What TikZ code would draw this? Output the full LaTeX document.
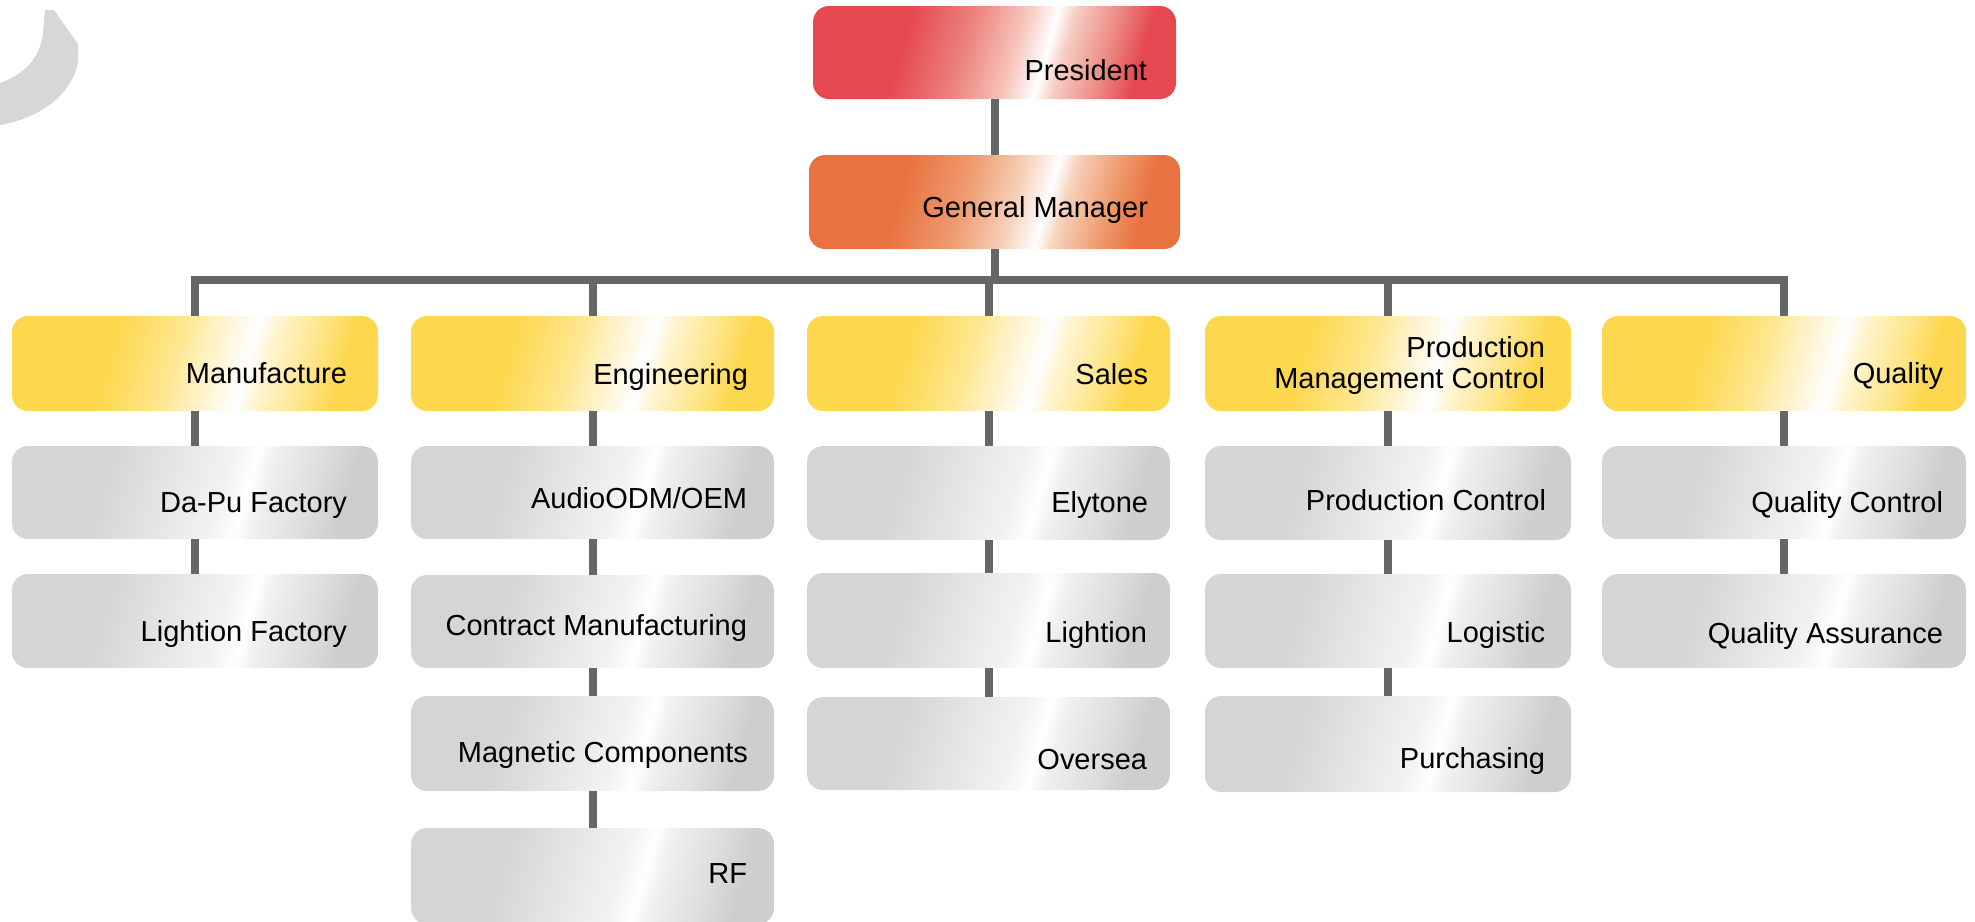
\documentclass[tikz,border=0pt]{standalone}
\usepackage{fontspec}
\setmainfont{Liberation Sans}
\usetikzlibrary{fit}
\definecolor{redA}{RGB}{229,73,79}
\definecolor{redB}{RGB}{236,130,125}
\definecolor{redC}{RGB}{246,195,185}
\definecolor{redD}{RGB}{246,205,195}
\definecolor{redE}{RGB}{236,138,132}
\definecolor{orA}{RGB}{233,115,64}
\definecolor{orB}{RGB}{239,155,112}
\definecolor{orC}{RGB}{247,208,185}
\definecolor{orD}{RGB}{247,210,188}
\definecolor{orE}{RGB}{238,155,110}
\definecolor{yeA}{RGB}{253,215,77}
\definecolor{yeB}{RGB}{254,230,140}
\definecolor{yeC}{RGB}{255,244,210}
\definecolor{yeD}{RGB}{255,245,210}
\definecolor{yeE}{RGB}{254,230,140}
\definecolor{grA}{RGB}{212,213,215}
\definecolor{grB}{RGB}{229,230,231}
\definecolor{grC}{RGB}{242,242,243}
\definecolor{grD}{RGB}{239,239,240}
\definecolor{grE}{RGB}{223,223,224}
\definecolor{grF}{RGB}{205,206,208}
\definecolor{wht}{RGB}{254,254,254}
\definecolor{linegray}{RGB}{102,102,102}
\definecolor{arcgray}{RGB}{215,215,215}
\pgfdeclarehorizontalshading{redshade}{100bp}{color(0bp)=(redA); color(35bp)=(redA); color(45bp)=(redB); color(53bp)=(redC); color(58.25bp)=(wht); color(61bp)=(redD); color(68bp)=(redE); color(73.5bp)=(redA); color(100bp)=(redA)}
\pgfdeclarehorizontalshading{orshade}{100bp}{color(0bp)=(orA); color(35bp)=(orA); color(45bp)=(orB); color(53bp)=(orC); color(58.25bp)=(wht); color(61bp)=(orD); color(68bp)=(orE); color(73.5bp)=(orA); color(100bp)=(orA)}
\pgfdeclarehorizontalshading{yeshade}{100bp}{color(0bp)=(yeA); color(36bp)=(yeA); color(46bp)=(yeB); color(53bp)=(yeC); color(58.25bp)=(wht); color(61bp)=(yeD); color(68bp)=(yeE); color(73.5bp)=(yeA); color(100bp)=(yeA)}
\pgfdeclarehorizontalshading{grshade}{100bp}{color(0bp)=(grA); color(35bp)=(grA); color(46bp)=(grB); color(54bp)=(grC); color(58.25bp)=(wht); color(61bp)=(grD); color(68bp)=(grE); color(74bp)=(grF); color(100bp)=(grF)}
\tikzset{
  box/.style={inner sep=0pt, outer sep=0pt, rounded corners=0.32cm, draw=none, shape=rectangle, shading angle=-16},
  redbox/.style={box, shading=redshade},
  orbox/.style={box, shading=orshade},
  yebox/.style={box, shading=yeshade},
  grbox/.style={box, shading=grshade},
  lbl/.style={anchor=base east, inner sep=0pt, outer sep=0pt, align=right, text=black, font=\fontsize{16.5}{17.6}\selectfont},
  conn/.style={draw=linegray, line width=0.16cm, line join=miter}
}
\begin{document}
\begin{tikzpicture}[x=0.02cm, y=-0.02cm]
\useasboundingbox (0,0) rectangle (1975,921);
% decorative crescent
\fill[arcgray] (45,10) -- (54,10) -- (78,44) -- (78,62) .. controls (72,95) and (40,118) .. (0,125) -- (0,83) .. controls (25,74) and (40,58) .. (43,33) -- cycle;
\coordinate (bar) at (0,280);
% boxes
\node[redbox, fit={(813,6) (1176,99)}] (pres) {};
\node[orbox, fit={(809,155) (1180,249)}] (gm) {};
\node[yebox, fit={(12,316) (378,411)}] (manu) {};
\node[grbox, fit={(12,446) (378,539)}] (dapu) {};
\node[grbox, fit={(12,574) (378,668)}] (lfac) {};
\node[yebox, fit={(411,316) (774,411)}] (eng) {};
\node[grbox, fit={(411,446) (774,539)}] (audio) {};
\node[grbox, fit={(411,575) (774,668)}] (contract) {};
\node[grbox, fit={(411,696) (774,791)}] (magnet) {};
\node[grbox, fit={(411,828) (774,924)}] (rf) {};
\node[yebox, fit={(807,316) (1170,411)}] (sales) {};
\node[grbox, fit={(807,446) (1170,540)}] (elytone) {};
\node[grbox, fit={(807,573) (1170,668)}] (lightion) {};
\node[grbox, fit={(807,697) (1170,790)}] (oversea) {};
\node[yebox, fit={(1205,316) (1571,411)}] (pmc) {};
\node[grbox, fit={(1205,446) (1571,540)}] (pc) {};
\node[grbox, fit={(1205,574) (1571,668)}] (logistic) {};
\node[grbox, fit={(1205,696) (1571,792)}] (purch) {};
\node[yebox, fit={(1602,316) (1966,411)}] (qual) {};
\node[grbox, fit={(1602,446) (1966,539)}] (qc) {};
\node[grbox, fit={(1602,574) (1966,668)}] (qa) {};
% connectors
\draw[conn] (pres.south) -- (gm.north);
\draw[conn] (gm.south) -- (gm.south |- bar);
\draw[conn] (manu.north) -- (manu.north |- bar) -- (qual.north |- bar) -- (qual.north);
\draw[conn] (eng.north) -- (eng.north |- bar);
\draw[conn] (sales.north) -- (sales.north |- bar);
\draw[conn] (pmc.north) -- (pmc.north |- bar);
\draw[conn] (manu.south) -- (dapu.north);
\draw[conn] (dapu.south) -- (lfac.north);
\draw[conn] (eng.south) -- (audio.north);
\draw[conn] (audio.south) -- (contract.north);
\draw[conn] (contract.south) -- (magnet.north);
\draw[conn] (magnet.south) -- (rf.north);
\draw[conn] (sales.south) -- (elytone.north);
\draw[conn] (elytone.south) -- (lightion.north);
\draw[conn] (lightion.south) -- (oversea.north);
\draw[conn] (pmc.south) -- (pc.north);
\draw[conn] (pc.south) -- (logistic.north);
\draw[conn] (logistic.south) -- (purch.north);
\draw[conn] (qual.south) -- (qc.north);
\draw[conn] (qc.south) -- (qa.north);
% labels
\node[lbl] (tpres) at (1147,80) {President};
\node[lbl] (tgm) at (1148,217) {General Manager};
\node[lbl] (tmanu) at (347,383) {Manufacture};
\node[lbl] (tdapu) at (347,512) {Da-Pu Factory};
\node[lbl] (tlfac) at (347,641) {Lightion Factory};
\node[lbl] (teng) at (748,384) {Engineering};
\node[lbl] (taudio) at (747,508) {AudioODM/OEM};
\node[lbl] (tcontract) at (747,635) {Contract Manufacturing};
\node[lbl] (tmagnet) at (748,762) {Magnetic Components};
\node[lbl] (trf) at (747,883) {RF};
\node[lbl] (tsales) at (1148,384) {Sales};
\node[lbl] (telytone) at (1148,512) {Elytone};
\node[lbl] (tlightion) at (1147,642) {Lightion};
\node[lbl] (toversea) at (1147,769) {Oversea};
\node[lbl] (tpmc) at (1545,388) {Production\\Management Control};
\node[lbl] (tpc) at (1546,510) {Production Control};
\node[lbl] (tlogistic) at (1545,642) {Logistic};
\node[lbl] (tpurch) at (1545,768) {Purchasing};
\node[lbl] (tqual) at (1943,383) {Quality};
\node[lbl] (tqc) at (1943,512) {Quality Control};
\node[lbl] (tqa) at (1943,643) {Quality Assurance};
\end{tikzpicture}
\end{document}
